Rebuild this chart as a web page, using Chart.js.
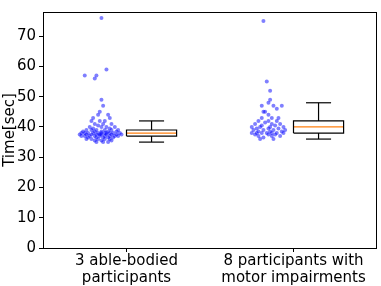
<!DOCTYPE html>
<html>
<head>
<meta charset="utf-8">
<script src="https://cdn.jsdelivr.net/npm/chart.js@4"></script>
<style>
  html, body { margin: 0; padding: 0; background: #fff; }
  #wrap { width: 381px; height: 286px; }
</style>
</head>
<body>
<div id="wrap"><canvas id="grafico" width="381" height="286"></canvas></div>
<script>
// categories
const categorias = [['3 able-bodied', 'participants'], ['8 participants with', 'motor impairments']];

// raw times per group (sec) and their horizontal jitter
const tiemposA = [76, 59, 57, 57, 56, 49, 47, 45, 44, 44, 43, 43, 42, 42, 42,
  41, 41, 41, 40.5, 40, 40, 40, 40, 39.5, 39.5, 39, 39, 39, 39, 39, 39,
  38.5, 38.5, 38.5, 38.5, 38.5, 38, 38, 38, 38, 38, 38, 38, 38, 38, 38, 38,
  37.5, 37.5, 37.5, 37.5, 37.5, 37.5, 37.5, 37.5, 37.5, 37.5,
  37, 37, 37, 37, 37, 37, 37, 37, 37, 36.5, 36.5, 36.5, 36.5, 36.5,
  36, 36, 36, 36, 36, 35.5, 35.5, 35.5, 35, 35, 35];
const jitterA = [0.0, 0.03, -0.1, -0.03, -0.04, 0.0, 0.01, -0.01, -0.02, 0.04, -0.05, 0.05, -0.01, 0.02, -0.06,
  -0.04, 0.01, 0.06, -0.02, -0.07, 0.0, 0.03, 0.08, -0.05, 0.05, -0.09, -0.03, 0.02, 0.06, -0.06, 0.1,
  -0.11, -0.04, 0.0, 0.04, 0.09, -0.12, -0.08, -0.05, -0.02, 0.0, 0.02, 0.05, 0.07, 0.11, -0.1, 0.03,
  -0.13, -0.09, -0.06, -0.03, 0.0, 0.03, 0.06, 0.09, 0.12, -0.01,
  -0.1, -0.07, -0.04, -0.01, 0.02, 0.05, 0.08, -0.12, 0.1, -0.08, -0.03, 0.01, 0.04, 0.07,
  -0.06, -0.02, 0.02, 0.05, -0.09, -0.04, 0.0, 0.06, -0.03, 0.01, 0.04];

const tiemposB = [75, 55, 52, 49, 48, 47, 47, 47, 46, 45, 45, 44, 43, 43, 43,
  42, 42, 42, 41.5, 41, 41, 41, 40.5, 40.5, 40, 40, 40, 40, 39.5, 39.5, 39.5,
  39, 39, 39, 39, 38.5, 38.5, 38.5, 38, 38, 38, 38, 38, 38, 38,
  37.5, 37.5, 37.5, 37, 37, 37, 36.5, 36, 36];
const jitterB = [-0.03, -0.01, 0.01, 0.01, 0.0, -0.04, 0.03, 0.08, 0.05, -0.02, -0.03, 0.0, -0.04, 0.02, 0.06,
  -0.06, 0.0, 0.05, -0.02, -0.08, 0.02, 0.07, -0.04, 0.04, -0.1, -0.05, 0.01, 0.09, -0.07, 0.0, 0.06,
  -0.09, -0.03, 0.03, 0.1, -0.06, 0.01, 0.08, -0.1, -0.07, -0.04, -0.01, 0.02, 0.05, 0.09,
  -0.08, 0.0, 0.04, -0.06, 0.02, 0.07, -0.03, -0.05, 0.03];

// box stats per group
const bigoteInf = [35, 36];
const cuartil1 = [37, 38];
const mediana = [38, 40];
const cuartil3 = [39, 42];
const bigoteSup = [42, 48];

const ticksY = [0, 10, 20, 30, 40, 50, 60, 70];

// layout constants
const desplazamiento = 0.15;
const anchoCaja = 0.3;

function puntos(tiempos, jitter, centro) {
  return tiempos.map((t, i) => ({ x: centro - desplazamiento + jitter[i], y: t }));
}

function linea(data, color) {
  return {
    type: 'scatter',
    data: data,
    showLine: true,
    borderColor: color,
    borderWidth: 1.2,
    pointRadius: 0,
    pointHoverRadius: 0
  };
}

const datasets = [];
[tiemposA, tiemposB].forEach((t, g) => {
  datasets.push({
    type: 'scatter',
    data: puntos(t, [jitterA, jitterB][g], g + 1),
    backgroundColor: 'rgba(0,0,255,0.5)',
    borderWidth: 0,
    pointRadius: 2
  });
});

for (let g = 0; g < 2; g++) {
  const c = g + 1 + desplazamiento;
  const h = anchoCaja / 2;
  const q = anchoCaja / 4;
  datasets.push(linea([
    { x: c - h, y: cuartil1[g] }, { x: c + h, y: cuartil1[g] },
    { x: c + h, y: cuartil3[g] }, { x: c - h, y: cuartil3[g] },
    { x: c - h, y: cuartil1[g] }
  ], '#000'));
  datasets.push(linea([{ x: c, y: cuartil1[g] }, { x: c, y: bigoteInf[g] }], '#000'));
  datasets.push(linea([{ x: c, y: cuartil3[g] }, { x: c, y: bigoteSup[g] }], '#000'));
  datasets.push(linea([{ x: c - q, y: bigoteInf[g] }, { x: c + q, y: bigoteInf[g] }], '#000'));
  datasets.push(linea([{ x: c - q, y: bigoteSup[g] }, { x: c + q, y: bigoteSup[g] }], '#000'));
  datasets.push(linea([{ x: c - h, y: mediana[g] }, { x: c + h, y: mediana[g] }], '#ff7f0e'));
}

// black frame around the plot area
const marco = {
  id: 'marco',
  afterDatasetsDraw(chart) {
    const a = chart.chartArea;
    const ctx = chart.ctx;
    ctx.save();
    ctx.strokeStyle = '#000';
    ctx.lineWidth = 1;
    ctx.strokeRect(Math.round(a.left) + 0.5, Math.round(a.top) + 0.5,
      Math.round(a.right - a.left) - 1, Math.round(a.bottom - a.top));
    ctx.restore();
  }
};

Chart.defaults.font.family = 'DejaVu Sans';
Chart.defaults.color = '#000';

new Chart(document.getElementById('grafico').getContext('2d'), {
  type: 'scatter',
  data: { datasets: datasets },
  options: {
    responsive: false,
    animation: false,
    layout: { padding: { top: 3, right: 2, left: 0, bottom: 0 } },
    plugins: { legend: { display: false }, tooltip: { enabled: false } },
    scales: {
      x: {
        type: 'linear',
        min: 0.5,
        max: 2.5,
        afterBuildTicks: (axis) => { axis.ticks = categorias.map((_, i) => ({ value: i + 1 })); },
        afterFit: (scale) => { scale.height = 38; },
        ticks: {
          callback: (v) => categorias[v - 1],
          font: { size: 15, lineHeight: 1.15 },
          padding: 0,
          maxRotation: 0
        },
        grid: { drawOnChartArea: false, tickLength: 4, color: '#000' },
        border: { display: false }
      },
      y: {
        min: 0,
        max: 78,
        afterBuildTicks: (axis) => { axis.ticks = ticksY.map(v => ({ value: v })); },
        afterFit: (scale) => { scale.width = 43; },
        ticks: { font: { size: 15 }, padding: 3 },
        grid: { drawOnChartArea: false, tickLength: 4, color: '#000' },
        border: { display: false },
        title: { display: true, text: 'Time[sec]', font: { size: 15 }, padding: { top: 1, bottom: 0 } }
      }
    }
  },
  plugins: [marco]
});
</script>
</body>
</html>
